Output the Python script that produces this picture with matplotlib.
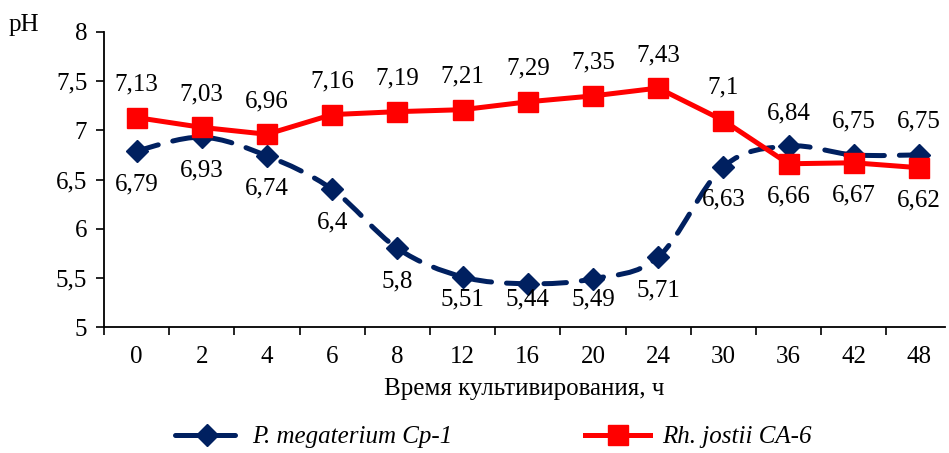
import numpy as np
import matplotlib.pyplot as plt
from matplotlib.path import Path
from matplotlib.patches import PathPatch
from matplotlib.lines import Line2D

plt.rcParams['font.family'] = ['Liberation Serif', 'DejaVu Serif']

hours = ["0", "2", "4", "6", "8", "12", "16", "20", "24", "30", "36", "42", "48"]
megaterium = [6.79, 6.93, 6.74, 6.4, 5.8, 5.51, 5.44, 5.49, 5.71, 6.63, 6.84, 6.75, 6.75]
jostii = [7.13, 7.03, 6.96, 7.16, 7.19, 7.21, 7.29, 7.35, 7.43, 7.1, 6.66, 6.67, 6.62]

BLUE = "#002060"
RED = "#FF0000"
FS = 18
DASH = (0, (4.5, 3))


def fmt(v):
    return ("%g" % v).replace(".", ",")


def smooth_path(xs, ys):
    # Excel-style smoothed line: cubic bezier segments through the points
    p = np.column_stack([xs, ys]).astype(float)
    n = len(p)
    verts = [p[0]]
    codes = [Path.MOVETO]
    for i in range(n - 1):
        p0 = p[i - 1] if i > 0 else p[i]
        p3 = p[i + 2] if i + 2 < n else p[i + 1]
        verts += [p[i] + (p[i + 1] - p0) / 6, p[i + 1] - (p3 - p[i]) / 6, p[i + 1]]
        codes += [Path.CURVE4] * 3
    return Path(verts, codes)


fig = plt.figure(figsize=(9.49, 4.53), dpi=100)
ax = fig.add_axes([104 / 949, 1 - 327 / 453, 841 / 949, (327 - 32) / 453])

x = list(range(len(hours)))
ax.add_patch(PathPatch(smooth_path(x, megaterium), fill=False, edgecolor=BLUE, lw=3.6,
                       ls=DASH, capstyle="round"))
ax.plot(x, megaterium, ls="none", marker="D", ms=11.5, color=BLUE)
ax.plot(x, jostii, color=RED, lw=3.6, marker="s", ms=14)

# labels go on the side away from the other curve, kept inside the plot area
px = 3 / 295  # data units per pixel
for i in x:
    top = 1 if megaterium[i] > jostii[i] else -1
    yb = max(megaterium[i] + 33 * px * top, 5.28)
    yr = jostii[i] - 33 * px * top
    ax.text(i, yb, fmt(megaterium[i]), ha="center", va="center", fontsize=FS)
    ax.text(i, yr, fmt(jostii[i]), ha="center", va="center", fontsize=FS)

ax.set_ylim(5, 8)
ax.set_yticks([5, 5.5, 6, 6.5, 7, 7.5, 8])
ax.set_yticklabels([fmt(t) for t in [5, 5.5, 6, 6.5, 7, 7.5, 8]])
ax.set_xlim(-0.5, 12.4)
ax.set_xticks(x)
ax.set_xticklabels(hours)
ax.set_xticks([i - 0.5 for i in range(len(hours))], minor=True)
ax.tick_params(axis="x", which="major", length=0, labelsize=FS, pad=14)
ax.tick_params(axis="x", which="minor", length=6, width=1.2, direction="out")
ax.tick_params(axis="y", length=6, width=1.2, labelsize=FS, pad=6)

for s in ["top", "right"]:
    ax.spines[s].set_visible(False)
for s in ["left", "bottom"]:
    ax.spines[s].set_linewidth(1.3)

ax.set_xlabel("Время культивирования, ч", fontsize=FS, labelpad=7)
fig.text(24 / 949, 1 - 25 / 453, "pH", fontsize=FS, ha="center", va="center")

handles = [
    Line2D([], [], color=BLUE, lw=3.6, ls=DASH, marker="D", ms=11.5, dash_capstyle="round"),
    Line2D([], [], color=RED, lw=3.6, marker="s", ms=14),
]
fig.legend(handles, ["P. megaterium Cp-1", "Rh. jostii CA-6"], loc="center",
           bbox_to_anchor=(0.52, 1 - 437 / 453), ncol=2, frameon=False,
           prop={"style": "italic", "size": FS}, columnspacing=5.3, handlelength=2.6,
           handletextpad=0.5)

fig.savefig("out.png", dpi=100)
